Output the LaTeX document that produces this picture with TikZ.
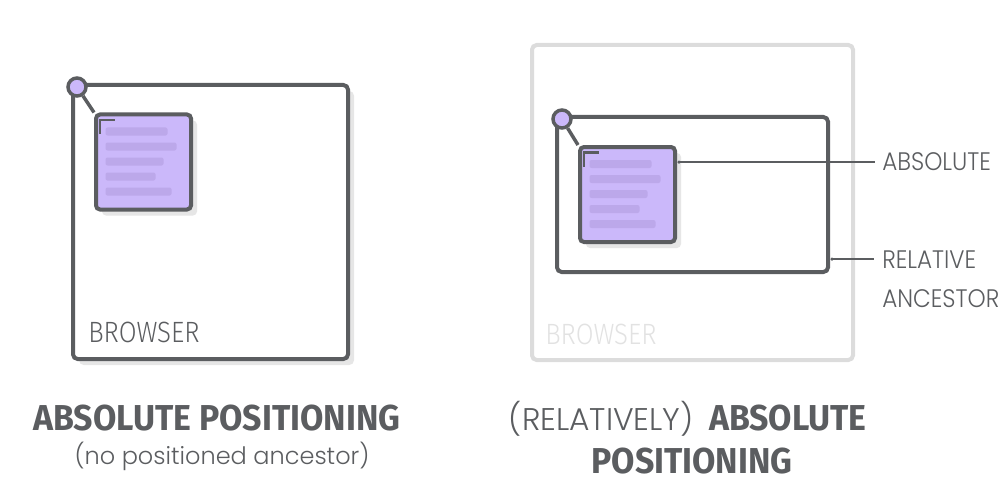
\documentclass[tikz,border=0pt]{standalone}
\usepackage{fontspec}
\setmainfont{Fira Sans}
\newfontfamily\lblfont{Fira Sans Light}[FakeStretch=0.88]
\newfontfamily\headfont{Fira Sans Bold}[FakeStretch=0.94]
\newfontfamily\roundfont{Poppins Light}
\newfontfamily\narrowround{Poppins Light}[FakeStretch=0.91]
\usetikzlibrary{shadows}

\definecolor{ink}{HTML}{5B5D60}
\definecolor{faded}{HTML}{DCDCDC}
\definecolor{fadedtext}{HTML}{E2E2E2}
\definecolor{lilac}{HTML}{CBB8FA}
\definecolor{lilacline}{HTML}{BCA8EA}
\definecolor{shade}{HTML}{E6E6E6}

\tikzset{
  boxframe/.style={draw=ink, line width=3pt, rounded corners=3.5pt, fill=white},
  withshadow/.style={drop shadow={shadow xshift=4.5pt, shadow yshift=-4.5pt, fill=shade, opacity=1}},
  fadedframe/.style={draw=faded, line width=3pt, rounded corners=3.5pt, fill=white},
  docbox/.style={draw=ink, line width=3pt, rounded corners=3pt, fill=lilac,
    minimum width=95*0.75pt, minimum height=95*0.75pt, inner sep=0pt, withshadow},
  anchorpin/.style={circle, draw=ink, line width=2.6pt, fill=lilac,
    minimum size=18*0.75pt, inner sep=0pt},
  pinlink/.style={draw=ink, line width=2.6pt},
  leader/.style={draw=ink, line width=1.1pt},
  leaderdot/.style={circle, fill=ink, minimum size=3.5*0.75pt, inner sep=0pt},
  browserlabel/.style={font=\lblfont\fontsize{22}{26}\selectfont, inner sep=0pt, anchor=base west},
  sidelabel/.style={font=\narrowround\fontsize{19}{23}\selectfont, text=ink, inner sep=0pt, anchor=base west},
  heading/.style={font=\headfont\fontsize{27}{32}\selectfont, text=ink, inner sep=0pt, anchor=base},
}

% a text-filled document card: corner mark and five grey-lilac lines
\newcommand\cardcontent{%
  \draw[draw=ink, line width=1.6pt] (6,21.5) -- (6,7.5) -- (20.5,7.5);
  \foreach \ytop/\len in {15/62, 30/71, 45/58, 60/50, 75/66}
    \fill[lilacline, rounded corners=1.5pt] (11.5,\ytop) rectangle ++(\len,8);
}

\begin{document}
\begin{tikzpicture}[x=0.75pt, y=-0.75pt]
\useasboundingbox (0,0) rectangle (1000,503);

% ---------- left: absolute positioning against the browser ----------
\node[boxframe, withshadow, minimum width=275*0.75pt, minimum height=274*0.75pt]
  (lbrowser) at (210.5,222) {};
\node[browserlabel, text=ink] (lbrowsertxt) at (88,342) {BROWSER};
\node[anchorpin] (lpin) at (77,87) {};
\node[docbox] (lcard) at (143.5,162) {};
\draw[pinlink] (lpin) -- (lcard.north west);
\begin{scope}[shift={(lcard.north west)}]
  \cardcontent
\end{scope}

\node[heading] (ltitle) at (217,430) {ABSOLUTE POSITIONING};
\node[font=\roundfont\fontsize{18}{21}\selectfont, text=ink, inner sep=0pt, anchor=base]
  (lsub) at (222,464) {(no positioned ancestor)};

% ---------- right: absolute positioning inside a relative ancestor ----------
\node[fadedframe, minimum width=321*0.75pt, minimum height=315*0.75pt]
  (rbrowser) at (692.5,202.5) {};
\node[browserlabel, text=fadedtext] (rbrowsertxt) at (545,344) {BROWSER};
\node[boxframe, minimum width=271*0.75pt, minimum height=155*0.75pt]
  (relbox) at (692.5,194.5) {};
\node[anchorpin] (rpin) at (562,119) {};
\node[docbox] (rcard) at (627.5,194.5) {};
\draw[pinlink] (rpin) -- (rcard.north west);
\begin{scope}[shift={(rcard.north west)}]
  \cardcontent
\end{scope}

% callout labels
\node[sidelabel] (abslbl) at (882,171) {ABSOLUTE};
\node[sidelabel] (rellbl) at (882,268) {RELATIVE};
\node[sidelabel] (anclbl) at (882,307) {ANCESTOR};
\coordinate (absend) at ([xshift=-5.25pt]abslbl.west);
\coordinate (relend) at ([xshift=-6pt]rellbl.west);
\node[leaderdot] (absdot) at ([xshift=1.5pt]rcard.east |- absend) {};
\node[leaderdot] (reldot) at ([xshift=1.5pt]relbox.east |- relend) {};
\draw[leader] (absdot.center) -- (absend);
\draw[leader] (reldot.center) -- (relend);

\node[font=\roundfont\fontsize{23.5}{28}\selectfont, text=ink, inner sep=0pt, anchor=base east]
  (rtitlea) at (694,430) {(RELATIVELY)};
\node[heading, anchor=base west] (rtitleb) at (709,430) {ABSOLUTE};
\node[heading] (rtitlec) at (692,473) {POSITIONING};
\end{tikzpicture}
\end{document}
